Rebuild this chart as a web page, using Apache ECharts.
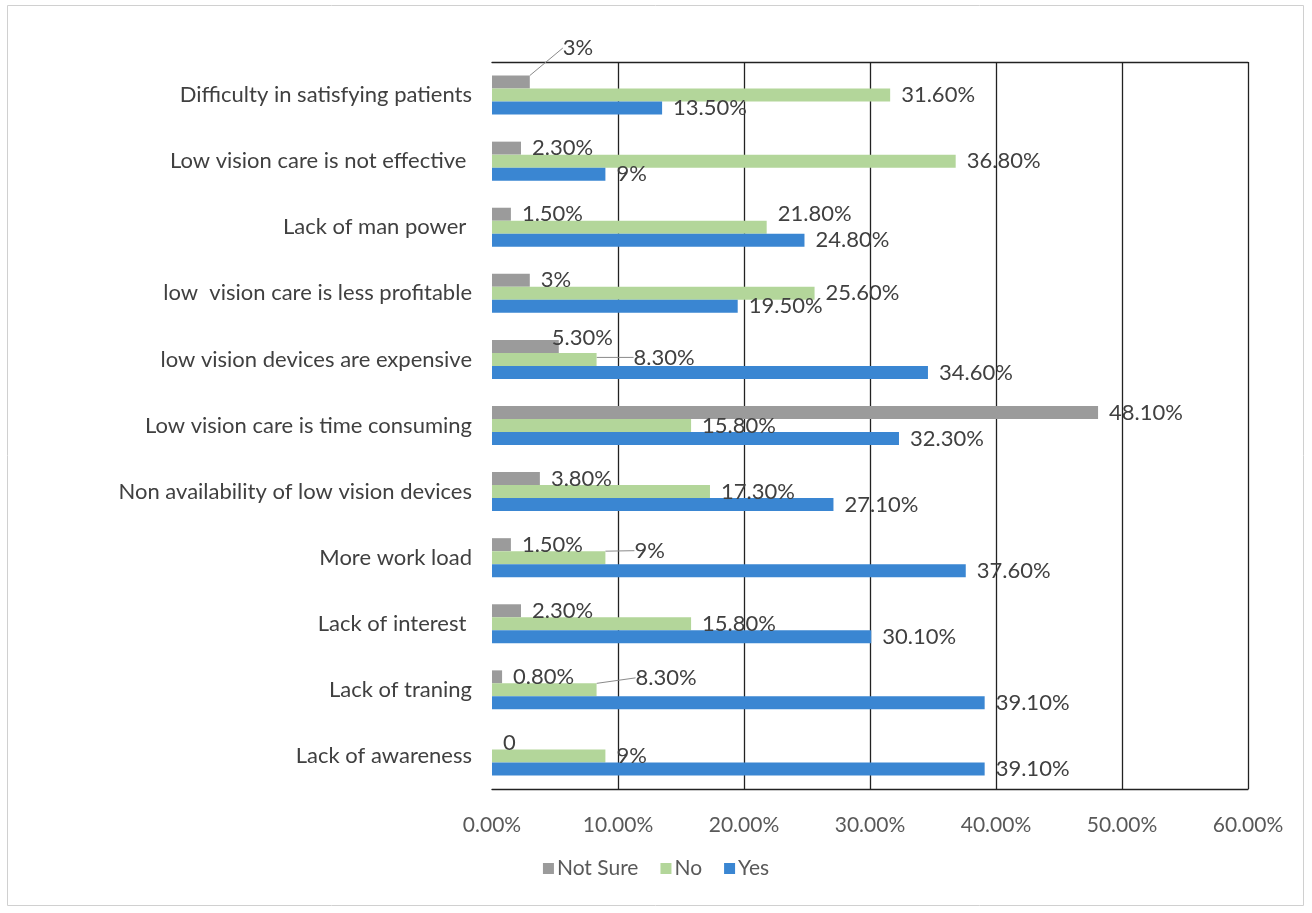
<!DOCTYPE html>
<html>
<head>
<meta charset="utf-8">
<script src="https://cdn.jsdelivr.net/npm/echarts@6/dist/echarts.min.js"></script>
<style>
  html, body { margin: 0; padding: 0; background: #fff; }
  #chart { width: 1312px; height: 913px; }
</style>
</head>
<body>
<div id="chart"></div>
<script>
// Barriers to low vision care, listed top to bottom
const categories = [
  'Difficulty in satisfying patients',
  'Low vision care is not effective ',
  'Lack of man power ',
  'low  vision care is less profitable',
  'low vision devices are expensive',
  'Low vision care is time consuming',
  'Non availability of low vision devices',
  'More work load',
  'Lack of interest ',
  'Lack of traning',
  'Lack of awareness'
];

// Percent of respondents
const notSure = [3, 2.3, 1.5, 3, 5.3, 48.1, 3.8, 1.5, 2.3, 0.8, 0];
const no      = [31.6, 36.8, 21.8, 25.6, 8.3, 15.8, 17.3, 9, 15.8, 8.3, 9];
const yes     = [13.5, 9, 24.8, 19.5, 34.6, 32.3, 27.1, 37.6, 30.1, 39.1, 39.1];

const xTicks = ['0.00%', '10.00%', '20.00%', '30.00%', '40.00%', '50.00%', '60.00%'];

// Hand-placed labels: 'series-category' -> [dx, dy, leader line]
const labelMoves = {
  '0-0': [22, -34, true],
  '1-2': [0, -13, false],
  '0-4': [-18, -9, false],
  '1-4': [26, -2, true],
  '1-7': [18, -7, true],
  '1-9': [28, -12, true]
};

const fmt = v => v === 0 ? '0' : (Number.isInteger(v) ? v + '%' : v.toFixed(2) + '%');

const FONT = 'Lato';

const labelStyle = {
  show: true,
  position: 'right',
  distance: 11,
  offset: [0, 2],
  color: '#404040',
  fontFamily: FONT,
  fontSize: 22,
  formatter: p => fmt(p.value)
};

function makeSeries(name, values, color, idx) {
  const data = values.map((v, i) => {
    const m = labelMoves[idx + '-' + i];
    return {
      value: v,
      labelLine: {
        show: !!(m && m[2]),
        lineStyle: { color: '#8a8a8a', width: 1 }
      }
    };
  });
  return {
    name: name,
    type: 'bar',
    data: data,
    barWidth: 13,
    barGap: '0%',
    itemStyle: { color: color },
    label: labelStyle,
    labelLayout: function (p) {
      const m = labelMoves[idx + '-' + p.dataIndex];
      return m ? { dx: m[0], dy: m[1] } : {};
    },
    emphasis: { disabled: true }
  };
}

const chart = echarts.init(document.getElementById('chart'), null, { renderer: 'canvas' });

chart.setOption({
  animation: false,
  backgroundColor: '#ffffff',
  graphic: [{
    type: 'rect',
    shape: { x: 7.5, y: 5.5, width: 1296, height: 900 },
    style: { fill: 'none', stroke: '#d0d0d0', lineWidth: 1 },
    silent: true
  }],
  grid: { left: 492, right: 64, top: 62, bottom: 124 },
  legend: {
    data: ['Not Sure', 'No', 'Yes'],
    bottom: 29,
    left: 'center',
    itemWidth: 11,
    itemHeight: 11,
    itemGap: 22,
    icon: 'rect',
    textStyle: { color: '#595959', fontFamily: FONT, fontSize: 21, padding: [0, 0, 0, -2] }
  },
  xAxis: [{
    type: 'value',
    min: 0,
    max: 60,
    interval: 10,
    position: 'bottom',
    axisLine: { show: true, lineStyle: { color: '#222', width: 1.3 } },
    axisTick: { show: false },
    axisLabel: {
      color: '#595959', fontFamily: FONT, fontSize: 21, margin: 26,
      formatter: v => xTicks[Math.round(v / 10)]
    },
    splitLine: { show: true, showMinLine: false, lineStyle: { color: '#222', width: 1.3 } }
  }, {
    type: 'value',
    min: 0,
    max: 60,
    interval: 10,
    position: 'top',
    axisLine: { show: true, lineStyle: { color: '#222', width: 1.3 } },
    axisTick: { show: false },
    axisLabel: { show: false },
    splitLine: { show: false }
  }],
  yAxis: {
    type: 'category',
    data: categories,
    inverse: true,
    axisLine: { show: false },
    axisTick: { show: false },
    axisLabel: { color: '#404040', fontFamily: FONT, fontSize: 22, margin: 20 }
  },
  series: [
    makeSeries('Not Sure', notSure, '#9b9b9b', 0),
    makeSeries('No', no, '#b3d69a', 1),
    makeSeries('Yes', yes, '#3a86d2', 2)
  ]
});
</script>
</body>
</html>
